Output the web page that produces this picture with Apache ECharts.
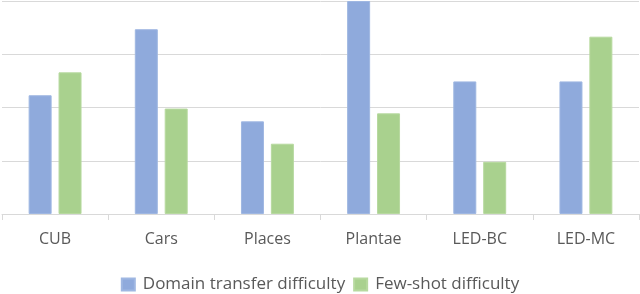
<!DOCTYPE html>
<html><head><meta charset="utf-8">
<script src="https://cdn.jsdelivr.net/npm/echarts@6/dist/echarts.min.js"></script>
<style>html,body{margin:0;padding:0;background:#fff}#c{width:640px;height:294px}</style>
</head><body><div id="c"></div>
<script>
const categories = ['CUB', 'Cars', 'Places', 'Plantae', 'LED-BC', 'LED-MC'];
const domainTransfer = [2.23, 3.47, 1.74, 4.0, 2.49, 2.49];
const fewShot = [2.66, 1.98, 1.32, 1.89, 0.98, 3.33];
const seriesNames = ['Domain transfer difficulty', 'Few-shot difficulty'];

const chart = echarts.init(document.getElementById('c'), null, {renderer: 'canvas'});
const font = '"Open Sans", sans-serif';
chart.setOption({
  animation: false,
  grid: {left: 2, right: 1, top: 1, bottom: 80, containLabel: false},
  legend: {
    data: seriesNames, top: 276, left: 'center', icon: 'rect',
    itemWidth: 13, itemHeight: 12, itemGap: 8, padding: 0,
    textStyle: {fontFamily: font, fontSize: 17, color: '#595959', padding: [0, 0, 0, 3]}
  },
  xAxis: {
    type: 'category', data: categories,
    axisLine: {lineStyle: {color: '#d9d9d9', width: 1}},
    axisTick: {show: true, length: 6, lineStyle: {color: '#d9d9d9'}},
    axisLabel: {fontFamily: font, fontSize: 16, color: '#595959', margin: 17}
  },
  yAxis: {
    type: 'value', min: 0, max: 4, interval: 1,
    axisLabel: {show: false}, axisLine: {show: false}, axisTick: {show: false},
    splitLine: {lineStyle: {color: '#d9d9d9', width: 1}}
  },
  series: [
    {name: seriesNames[0], type: 'bar', data: domainTransfer, barWidth: 23, barGap: '30%',
     itemStyle: {color: '#8faadc', borderColor: '#9fb7e2', borderWidth: 1}},
    {name: seriesNames[1], type: 'bar', data: fewShot, barWidth: 23,
     itemStyle: {color: '#a9d18e', borderColor: '#b7d99f', borderWidth: 1}}
  ]
});
</script></body></html>
